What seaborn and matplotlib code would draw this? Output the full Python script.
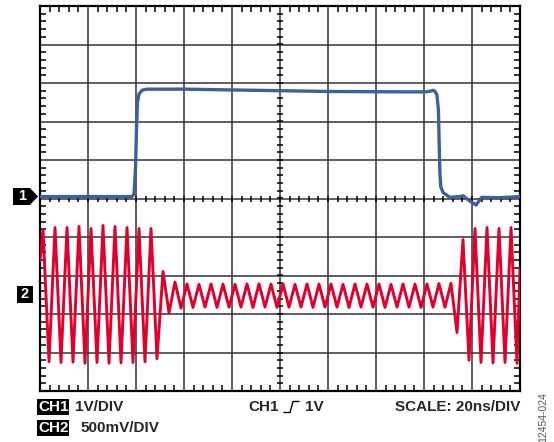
import numpy as np
import pandas as pd
import matplotlib
matplotlib.use("Agg")
import matplotlib.pyplot as plt
import seaborn as sns
from matplotlib.patches import Polygon
from matplotlib.ticker import MultipleLocator

# scope settings
NS_PER_DIV = 20
CH1_V_PER_DIV = 1.0
CH2_MV_PER_DIV = 500.0
CH1_OFFSET_DIV = 0.0
CH2_OFFSET_DIV = -2.52

# CH1 (blue) trace, time in ns, level in V
ch1_t = [0, 38.3, 39.2, 39.8, 40.2, 40.6, 41.3, 42.5, 44.5, 60, 90, 120, 150,
         160.8, 162.8, 163.8, 164.6, 165.4, 166.0, 166.3, 166.6, 167.0, 168.0,
         170.8, 175.0, 176.3, 178.3, 181.7, 184.0, 191.7, 200]
ch1_v = [0.05, 0.05, 0.12, 0.8, 1.8, 2.5, 2.72, 2.81, 2.84, 2.84, 2.81, 2.78, 2.77,
         2.77, 2.79, 2.81, 2.78, 2.69, 2.3, 1.5, 0.7, 0.3, 0.15,
         0.03, 0.05, 0.07, -0.03, -0.17, 0.03, 0.02, 0.05]

# CH2 (red) trace: start, then peak/trough levels every 2.5 ns, then end (mV)
ch2_t = [0] + list(np.arange(1.25, 200, 2.5)) + [200]
ch2_mv = ([450]
          + [857, -860, 883, -870, 883, -865, 896, -880, 870, -870,
             909, -880, 896, -875, 883, -870, 870, -860, 870, -820]
          + [312, -225, 175, -165]
          + [150, -155, 145, -150, 150, -155, 148, -152, 145, -150,
             150, -155, 152, -150, 148, -155, 150, -152, 145, -150,
             150, -155, 148, -150, 150, -152, 145, -155, 150, -150,
             148, -152, 150, -155, 145, -150, 150, -152, 148, -155,
             150, -150, 155, -152, 160]
          + [-480, 727, -840]
          + [870, -870, 883, -875, 870, -870, 883, -880]
          + [350])

BLUE = "#3d5f9c"
RED = "#e0002b"
W, H = 554, 442

sns.set_style("white")
plt.rcParams["font.family"] = ["Liberation Sans", "DejaVu Sans"]

df1 = pd.DataFrame({"t": ch1_t, "y": np.array(ch1_v) / CH1_V_PER_DIV + CH1_OFFSET_DIV})
df2 = pd.DataFrame({"t": ch2_t, "y": np.array(ch2_mv) / CH2_MV_PER_DIV + CH2_OFFSET_DIV})

fig = plt.figure(figsize=(W / 100, H / 100), dpi=100)
ax = fig.add_axes([40 / W, 1 - 391 / H, 480 / W, 385 / H])

sns.lineplot(data=df2, x="t", y="y", ax=ax, color=RED, lw=2.1, sort=False,
             estimator=None, zorder=3)
sns.lineplot(data=df1, x="t", y="y", ax=ax, color=BLUE, lw=2.4, sort=False,
             estimator=None, zorder=4)
for ln in ax.lines:
    ln.set_solid_joinstyle("round")
    ln.set_solid_capstyle("round")

ax.set_xlim(0, 10 * NS_PER_DIV)
ax.set_ylim(-5, 5)
ax.xaxis.set_major_locator(MultipleLocator(NS_PER_DIV))
ax.yaxis.set_major_locator(MultipleLocator(1))
ax.xaxis.set_minor_locator(MultipleLocator(NS_PER_DIV / 5))
ax.yaxis.set_minor_locator(MultipleLocator(0.2))
ax.grid(which="major", color="#333333", lw=1.1, zorder=1)
ax.tick_params(which="major", length=0, labelbottom=False, labelleft=False)
ax.tick_params(which="minor", direction="in", length=4, width=1.1, color="black",
               top=True, right=True, bottom=True, left=True)
ax.set_xlabel("")
ax.set_ylabel("")
for s in ax.spines.values():
    s.set_color("black")
    s.set_linewidth(1.6)

# ticks on the centre lines
xt = np.arange(0, 10 * NS_PER_DIV + 0.1, NS_PER_DIV / 5)
yt = np.arange(-5, 5.01, 0.2)
ax.plot(xt, np.zeros_like(xt), ls="none", marker="|", ms=5, mew=1.1, color="black", zorder=2)
ax.plot(np.full_like(yt, 5 * NS_PER_DIV), yt, ls="none", marker="_", ms=5, mew=1.1,
        color="black", zorder=2)


def fx(x):
    return x / W


def fy(y):
    return 1 - y / H


# channel markers
y1 = 198.5 - CH1_OFFSET_DIV * 38.5 - 2
y2 = 198.5 - CH2_OFFSET_DIV * 38.5 - 1.5
fig.patches.append(Polygon([(fx(13), fy(y1 - 8.5)), (fx(30), fy(y1 - 8.5)), (fx(38), fy(y1)),
                            (fx(30), fy(y1 + 8.5)), (fx(13), fy(y1 + 8.5))],
                           closed=True, fc="black", ec="none", transform=fig.transFigure))
fig.patches.append(Polygon([(fx(17), fy(y2 - 8.5)), (fx(33), fy(y2 - 8.5)),
                            (fx(33), fy(y2 + 8.5)), (fx(17), fy(y2 + 8.5))],
                           closed=True, fc="black", ec="none", transform=fig.transFigure))
fig.text(fx(22), fy(y1), "1", color="white", fontsize=10.5, fontweight="bold",
         ha="center", va="center")
fig.text(fx(25), fy(y2), "2", color="white", fontsize=10.5, fontweight="bold",
         ha="center", va="center")

# bottom annotations
FS = 11
box = dict(boxstyle="square,pad=0.05", fc="black", ec="none")
fig.text(fx(38), fy(407), "CH1", color="white", fontsize=FS, fontweight="bold",
         va="center", bbox=box)
fig.text(fx(75), fy(407), "1V/DIV", fontsize=FS, fontweight="bold", va="center")
fig.text(fx(38), fy(428), "CH2", color="white", fontsize=FS, fontweight="bold",
         va="center", bbox=box)
fig.text(fx(80), fy(428), "500mV/DIV", fontsize=FS, fontweight="bold", va="center")
fig.text(fx(248), fy(407), "CH1", fontsize=FS, fontweight="bold", va="center")
fig.add_artist(plt.Line2D([fx(284), fx(290), fx(293), fx(299)],
                          [fy(412.5), fy(412.5), fy(401.5), fy(401.5)],
                          color="black", lw=1.0, transform=fig.transFigure))
fig.text(fx(305), fy(407), "1V", fontsize=FS, fontweight="bold", va="center")
fig.text(fx(520), fy(407), "SCALE: 20ns/DIV", fontsize=FS, fontweight="bold",
         va="center", ha="right")
fig.text(fx(543), fy(417), "12454-024", fontsize=7.5, color="#555555",
         rotation=90, ha="center", va="center")

fig.savefig("out.png", dpi=100)
